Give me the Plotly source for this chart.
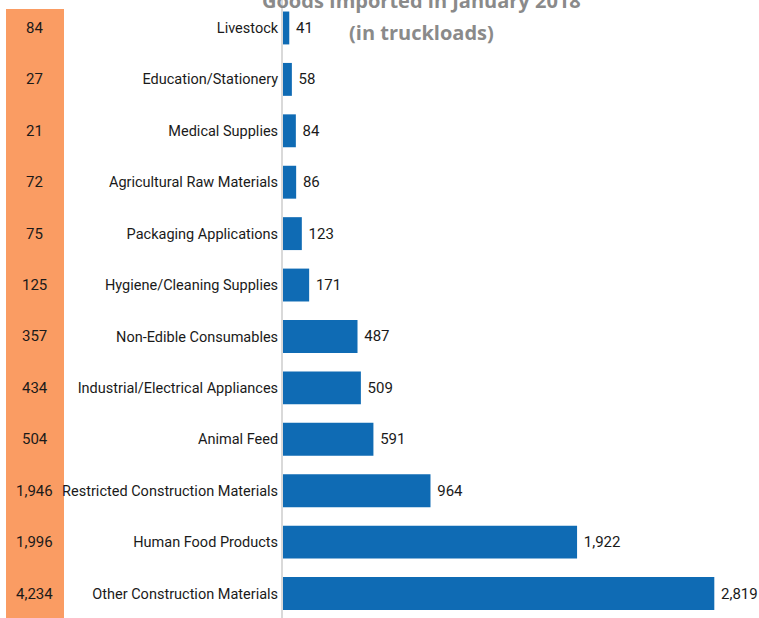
import plotly.graph_objects as go

categories = ["Livestock", "Education/Stationery", "Medical Supplies", "Agricultural Raw Materials",
              "Packaging Applications", "Hygiene/Cleaning Supplies", "Non-Edible Consumables",
              "Industrial/Electrical Appliances", "Animal Feed", "Restricted Construction Materials",
              "Human Food Products", "Other Construction Materials"]
jan_2018 = [41, 58, 84, 86, 123, 171, 487, 509, 591, 964, 1922, 2819]
left_column = [84, 27, 21, 72, 75, 125, 357, 434, 504, 1946, 1996, 4234]

FONT = "Roboto"
W, H = 759, 618
L, R = 283, 17

fig = go.Figure()
fig.add_trace(go.Bar(
    x=jan_2018, y=categories, orientation="h",
    marker=dict(color="#0F6BB4", line=dict(width=0)),
    text=[f" {v:,}" for v in jan_2018], textposition="outside",
    textfont=dict(family=FONT, size=15, color="#1a1a1a"),
    cliponaxis=False, hoverinfo="skip",
))

def px_to_paper_x(px):
    return (px - L) / (W - L - R)

# orange column
fig.add_shape(type="rect", xref="paper", yref="paper",
              x0=px_to_paper_x(6), x1=px_to_paper_x(64), y0=-0.01, y1=1 - 9 / H,
              fillcolor="#FA9C63", line=dict(width=0), layer="below")
for c, v in zip(categories, left_column):
    fig.add_annotation(x=px_to_paper_x(35), xref="paper", y=c, yref="y",
                       text=f"{v:,}", showarrow=False, xanchor="center",
                       font=dict(family=FONT, size=15, color="#1a1a1a"))

fig.add_annotation(x=px_to_paper_x(421), xref="paper", y=1 - 0 / H, yref="paper",
                   text="<b>Goods Imported in January 2018</b>", showarrow=False,
                   xanchor="center", yanchor="middle",
                   font=dict(family="Open Sans", size=20, color="#8A8A8A"))
fig.add_annotation(x=px_to_paper_x(421), xref="paper", y=1 - 32 / H, yref="paper",
                   text="<b>(in truckloads)</b>", showarrow=False,
                   xanchor="center", yanchor="middle",
                   font=dict(family="Open Sans", size=20, color="#8A8A8A"))

fig.update_layout(
    width=W, height=H, margin=dict(l=L, r=R, t=0, b=0),
    plot_bgcolor="white", paper_bgcolor="white", bargap=0.36,
    showlegend=False,
    font=dict(family=FONT, size=14.5, color="#1a1a1a"),
    xaxis=dict(range=[0, 3000], showgrid=False, zeroline=False, showticklabels=False,
               showline=False, ticks=""),
    yaxis=dict(categoryorder="array", categoryarray=categories,
               range=[11.476, -0.544], showgrid=False, zeroline=False,
               showline=True, linecolor="#D9D9D9", linewidth=2, ticks="",
               ticklabelstandoff=0),
)
fig.write_html("out.html", config={"displayModeBar": False},
               post_script="document.body.style.margin='0';")
